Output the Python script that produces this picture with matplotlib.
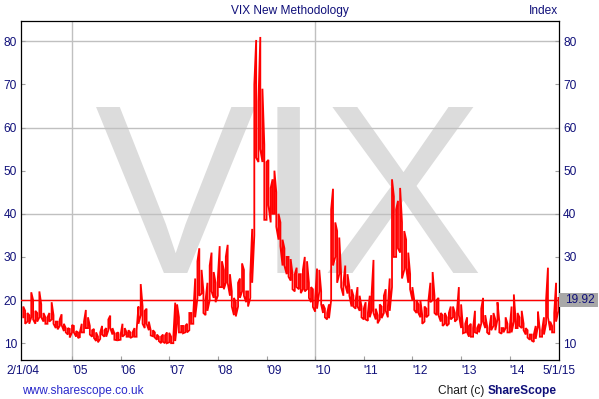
import numpy as np
import pandas as pd
import matplotlib
matplotlib.use("Agg")
from matplotlib import pyplot as plt
from matplotlib.patches import Rectangle
import matplotlib.dates as mdates

plt.rcParams['font.family'] = ['Liberation Sans', 'DejaVu Sans']

# half-monthly high / low of the VIX
hi_2004 = [18.5, 17.5, 17.0, 16.5, 21.8, 20.0, 17.5, 17.0, 22.0, 19.0, 17.0, 16.0,
           16.0, 17.0, 19.5, 16.5, 15.0, 15.0, 15.5, 16.7, 14.5, 13.5, 13.5, 13.3]
lo_2004 = [16.0, 14.5, 15.0, 14.5, 16.0, 15.5, 14.5, 15.0, 16.0, 16.0, 15.0, 14.5,
           14.5, 15.0, 15.5, 14.5, 13.5, 13.2, 14.0, 14.2, 12.8, 12.5, 12.0, 11.3]
hi_2005 = [14.2, 14.0, 12.8, 12.5, 12.5, 14.5, 15.0, 17.7, 16.0, 14.0, 13.0, 13.3,
           12.5, 11.5, 12.5, 14.0, 13.0, 13.5, 15.5, 16.4, 13.5, 12.3, 12.3, 12.5]
lo_2005 = [12.5, 12.5, 11.5, 11.2, 11.4, 12.5, 12.5, 13.5, 13.5, 12.0, 11.5, 11.2,
           10.5, 10.2, 11.0, 12.0, 11.5, 11.5, 13.0, 13.5, 12.0, 10.8, 10.7, 10.7]
hi_2006 = [12.0, 14.5, 13.5, 12.5, 13.0, 12.5, 12.5, 13.5, 13.0, 18.5, 23.7, 18.5,
           17.5, 18.0, 15.0, 13.0, 13.0, 12.5, 12.0, 11.5, 11.5, 12.0, 11.8, 12.5]
lo_2006 = [10.8, 11.5, 12.0, 11.5, 11.5, 11.2, 11.5, 11.5, 11.5, 14.5, 16.5, 14.5,
           13.5, 14.5, 13.0, 11.8, 11.6, 11.3, 10.8, 10.5, 10.0, 10.3, 10.0, 10.0]
hi_2007 = [12.4, 11.5, 11.5, 19.4, 19.0, 16.0, 14.0, 14.0, 14.0, 14.5, 17.0, 17.0,
           17.0, 25.0, 29.0, 32.0, 27.0, 22.0, 20.0, 24.0, 28.0, 31.0, 26.5, 24.0]
lo_2007 = [10.2, 10.0, 10.0, 10.5, 14.5, 12.5, 12.5, 12.3, 12.5, 12.5, 13.0, 14.5,
           14.5, 16.0, 20.5, 21.0, 21.5, 17.0, 16.5, 17.5, 20.0, 22.0, 20.5, 19.5]
hi_2008 = [25.0, 32.5, 29.0, 27.0, 30.0, 32.8, 26.0, 22.0, 20.5, 19.5, 24.0, 25.0,
           28.5, 27.0, 22.0, 22.0, 26.0, 36.5, 70.0, 80.3, 66.0, 81.0, 69.0, 56.0]
lo_2008 = [21.0, 23.0, 23.0, 22.5, 24.0, 24.0, 21.0, 18.5, 16.5, 16.2, 18.5, 20.5,
           22.0, 21.0, 19.5, 18.5, 20.5, 24.0, 35.0, 53.0, 52.0, 55.0, 52.0, 38.6]
hi_2009 = [52.0, 52.5, 46.0, 48.0, 50.0, 45.0, 40.0, 38.0, 34.0, 32.0, 30.0, 30.0,
           29.5, 26.0, 26.0, 27.5, 26.0, 26.0, 27.0, 30.0, 29.0, 24.0, 23.0, 22.5]
lo_2009 = [38.6, 42.0, 38.0, 40.0, 40.0, 37.0, 34.0, 32.5, 28.0, 28.0, 26.0, 25.4,
           24.5, 22.5, 22.0, 23.0, 22.5, 21.6, 22.5, 22.0, 22.5, 20.5, 19.5, 18.4]
hi_2010 = [20.5, 27.3, 27.0, 22.0, 19.0, 18.0, 17.0, 19.0, 41.0, 45.8, 38.0, 36.0,
           34.5, 26.0, 24.0, 28.0, 26.0, 23.0, 22.5, 21.0, 20.0, 23.0, 21.0, 18.5]
lo_2010 = [17.3, 18.0, 22.0, 19.0, 17.0, 16.0, 15.5, 15.8, 20.0, 28.0, 30.0, 24.0,
           26.0, 23.0, 21.0, 23.5, 21.5, 21.0, 18.5, 18.5, 18.0, 18.5, 17.5, 16.0]
hi_2011 = [18.0, 19.5, 17.0, 21.0, 21.5, 29.3, 18.0, 16.5, 19.0, 18.5, 21.0, 22.5,
           18.5, 25.0, 48.0, 44.0, 41.0, 43.0, 46.0, 38.0, 36.0, 34.0, 31.0, 26.0]
lo_2011 = [15.5, 15.5, 15.2, 16.0, 17.5, 17.0, 15.5, 14.6, 15.5, 15.8, 17.0, 17.5,
           16.0, 17.5, 23.0, 30.0, 30.0, 32.0, 31.0, 25.0, 27.0, 27.5, 24.0, 22.5]
hi_2012 = [23.0, 20.0, 20.0, 19.0, 20.0, 16.5, 18.5, 18.0, 20.0, 24.0, 26.5, 21.0,
           20.0, 20.5, 17.0, 16.5, 17.0, 16.0, 17.0, 18.5, 18.5, 17.0, 17.5, 23.0]
lo_2012 = [20.0, 17.7, 17.0, 17.0, 16.0, 14.5, 15.0, 16.0, 16.5, 19.5, 20.0, 17.0,
           16.5, 16.5, 15.0, 14.0, 14.5, 14.0, 14.5, 15.5, 16.0, 15.0, 15.5, 16.5]
hi_2013 = [19.0, 13.5, 14.5, 16.0, 14.0, 14.5, 13.5, 17.5, 13.5, 14.5, 18.0, 20.5,
           16.5, 14.0, 13.5, 16.5, 17.0, 15.5, 19.5, 15.0, 13.5, 13.5, 16.0, 14.5]
lo_2013 = [13.5, 12.3, 12.5, 12.5, 11.5, 11.5, 11.5, 12.5, 12.3, 12.5, 14.5, 15.0,
           13.5, 12.5, 12.0, 13.0, 14.0, 13.0, 15.5, 12.5, 12.2, 12.5, 13.5, 12.5]
hi_2014 = [13.5, 18.5, 21.3, 15.0, 17.0, 16.0, 17.5, 14.5, 13.5, 13.0, 12.0, 12.0,
           12.0, 14.0, 17.3, 13.0, 13.0, 16.0, 20.0, 27.5, 15.0, 14.0, 17.0, 24.0]
lo_2014 = [12.5, 12.5, 15.0, 13.5, 13.5, 14.0, 13.5, 13.0, 12.0, 11.3, 10.8, 10.6,
           10.3, 11.0, 14.0, 11.5, 11.5, 12.0, 14.5, 16.0, 13.0, 12.5, 12.5, 15.0]
hi_2015 = [20.5]
lo_2015 = [17.5]
last_close = 19.92

year_ticks = list(range(2005, 2015))
year_labels = ["'%02d" % (y % 100) for y in year_ticks]
first_label, last_label = '2/1/04', '5/1/15'

navy = '#10107a'

hi = np.array(hi_2004 + hi_2005 + hi_2006 + hi_2007 + hi_2008 + hi_2009 + hi_2010 +
              hi_2011 + hi_2012 + hi_2013 + hi_2014 + hi_2015)
lo = np.array(lo_2004 + lo_2005 + lo_2006 + lo_2007 + lo_2008 + lo_2009 + lo_2010 +
              lo_2011 + lo_2012 + lo_2013 + lo_2014 + lo_2015)
dates = mdates.date2num(pd.date_range('2004-01-01', periods=len(hi), freq='SMS').to_pydatetime())

# zigzag through each period's low/high so the trace stays continuous
ys = np.column_stack([lo, hi])
ys[1::2] = ys[1::2, ::-1]
xs = np.repeat(dates, 2)
ys = ys.ravel()

fig = plt.figure(figsize=(5.99, 3.99), dpi=100)
ax = fig.add_axes([21 / 599, 39 / 399, 538 / 599, 339 / 399])

ax.text(0.5, 0.2566, 'VIX', transform=ax.transAxes, fontsize=174, color='#dcdcdc',
        ha='center', va='baseline', zorder=0)

for v in range(20, 81, 20):
    ax.axhline(v, color='#c0c0c0', lw=1.0, zorder=0.5)
for y in (2005, 2010):
    ax.axvline(mdates.date2num(pd.Timestamp(f'{y}-01-01')), color='#c0c0c0', lw=1.0, zorder=0.5)

ax.plot(xs, ys, color='#ff0000', lw=1.3, zorder=2, solid_joinstyle='miter')
ax.axhline(last_close, color='#ff0000', lw=1.0, zorder=3)

x0 = mdates.date2num(pd.Timestamp('2003-12-15'))
x1 = mdates.date2num(pd.Timestamp('2015-01-06'))
ax.set_xlim(x0, x1)
ax.set_ylim(6.1, 84.7)

ax.set_yticks(range(10, 81, 10))
ax.set_yticklabels(['%d' % v for v in range(10, 81, 10)])
ax.set_xticks([mdates.date2num(pd.Timestamp(f'{y}-01-01')) for y in year_ticks])
ax.set_xticklabels(year_labels, ha='left')
ax.tick_params(axis='both', direction='in', length=3, color='#a0a0a0', labelcolor=navy,
               labelsize=8.6)
ax.tick_params(axis='x', pad=3.4)
ax.tick_params(axis='y', pad=3, right=True, labelright=True)
# the right-hand 20 sits under the last value box
for tick in ax.yaxis.get_major_ticks():
    if tick.get_loc() == 20:
        tick.label2.set_visible(False)
for sp in ax.spines.values():
    sp.set_color('black')
    sp.set_linewidth(0.9)

ax.annotate(first_label, xy=(0, 0), xycoords='axes fraction', xytext=(1.5, -3.4),
            textcoords='offset points', ha='center', va='top', color=navy, fontsize=8.6)
ax.annotate(last_label, xy=(1, 0), xycoords='axes fraction', xytext=(0, -3.4),
            textcoords='offset points', ha='center', va='top', color=navy, fontsize=8.6)

# last value box on the right axis
box_h = 14 / 339 * (84.7 - 6.1)
ax.add_patch(Rectangle((1.0, last_close - box_h / 2), 39 / 538, box_h,
                       transform=ax.get_yaxis_transform(), fc='#a8a8a8', ec='none',
                       clip_on=False, zorder=5))
ax.annotate('%.2f' % last_close, xy=(1, last_close), xycoords=('axes fraction', 'data'),
            xytext=(4.2, 0), textcoords='offset points', ha='left', va='center',
            color=navy, fontsize=8.6, zorder=6)

fig.text(290 / 599, 1 - 11 / 399, 'VIX New Methodology', ha='center', va='center',
         color=navy, fontsize=8.6)
fig.text(558 / 599, 1 - 11 / 399, 'Index', ha='right', va='center', color=navy, fontsize=8.6)
fig.text(22 / 599, 1 - 394 / 399, 'www.sharescope.co.uk', ha='left', va='baseline',
         color='#2a2acc', fontsize=8.6)
brand = fig.text(557 / 599, 1 - 394 / 399, 'ShareScope', ha='right', va='baseline',
                 color=navy, fontsize=8.6, fontweight='bold')
ax.annotate('Chart (c) ', xy=(0, 1 - 394 / 399), xycoords=(brand, 'figure fraction'),
            ha='right', va='baseline', color='#1a1a1a', fontsize=8.6, annotation_clip=False)

fig.savefig('out.png', dpi=100)
